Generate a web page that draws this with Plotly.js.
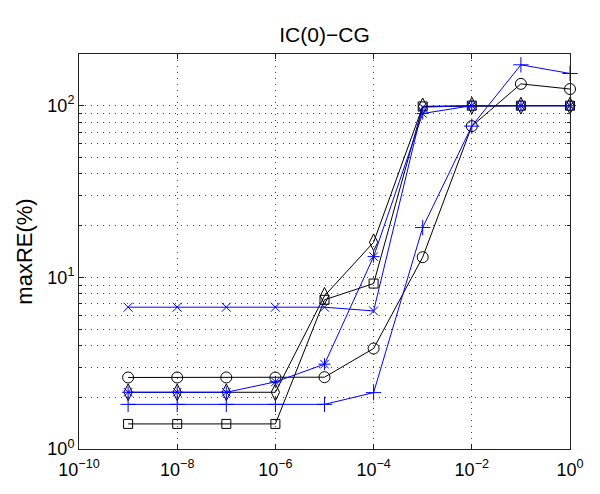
<!DOCTYPE html>
<html>
<head>
<meta charset="utf-8">
<script src="https://cdn.plot.ly/plotly-3.0.1.min.js"></script>
<style>html,body{margin:0;padding:0;background:#fff}#chart{width:600px;height:494px}</style>
</head>
<body>
<div id="chart"></div>
<script>
const xVals = [1e-9, 1e-8, 1e-7, 1e-6, 1e-5, 1e-4, 1e-3, 1e-2, 1e-1, 1e0];
const circleK  = [2.61, 2.61, 2.61, 2.61, 2.62, 3.85, 13.1, 76, 134, 125];
const squareK  = [1.40, 1.40, 1.40, 1.40, 7.4, 9.2, 99, 100, 100, 100];
const diamondK = [2.14, 2.14, 2.14, 2.14, 7.8, 16.0, 99, 100, 100, 100];
const xMarkB   = [6.7, 6.7, 6.7, 6.7, 6.7, 6.37, 98, 100, 100, 100];
const plusB    = [1.82, 1.82, 1.82, 1.82, 1.82, 2.13, 19.5, 76, 173, 154];
const starB    = [2.14, 2.14, 2.14, 2.46, 3.12, 13.2, 90, 100, 100, 100];
const xTickVals = [1e-10, 1e-8, 1e-6, 1e-4, 1e-2, 1e0];
const xTickText = ['10<sup>−10</sup>', '10<sup>−8</sup>', '10<sup>−6</sup>', '10<sup>−4</sup>', '10<sup>−2</sup>', '10<sup>0</sup>'];
const yTickVals = [1, 10, 100];
const yTickText = ['10<sup>0</sup>', '10<sup>1</sup>', '10<sup>2</sup>'];
const yMinorVals = [2,3,4,5,6,7,8,9,20,30,40,50,60,70,80,90];

const K = '#000000', B = '#0000ff';
function tr(y, color, symbol, size) {
  return {x: xVals, y: y, type: 'scatter', mode: 'lines+markers',
    line: {color: color, width: 1},
    marker: {symbol: symbol, size: size, color: color, line: {color: color, width: 1}},
    showlegend: false, cliponaxis: false};
}
const data = [
  tr(circleK, K, 'circle-open', 11),
  tr(squareK, K, 'square-open', 9),
  tr(diamondK, K, 'diamond-tall-open', 12),
  tr(xMarkB, B, 'x-thin-open', 9),
  tr(plusB, B, 'cross-thin-open', 11),
  tr(starB, B, 'asterisk-open', 10)
];
const GRID = '#444';
const DASH = '1px,5px';
const axCommon = {
  showline: true, mirror: 'ticks', linecolor: '#222', linewidth: 1,
  ticks: 'inside', ticklen: 5, tickcolor: '#222',
  showgrid: true, gridcolor: GRID, griddash: DASH, gridwidth: 1,
  zeroline: false, tickfont: {family: 'Liberation Sans, Arial, sans-serif', size: 18, color: '#000'}
};
const layout = {
  width: 600, height: 494,
  margin: {l: 79, r: 30, t: 54, b: 45},
  paper_bgcolor: '#fff', plot_bgcolor: '#fff',
  title: {text: 'IC(0)−CG', font: {family: 'Liberation Sans, Arial, sans-serif', size: 21, color: '#000'},
          x: 0.5, xref: 'paper', y: 1 - 35/494, yanchor: 'middle'},
  xaxis: Object.assign({}, axCommon, {
    type: 'log', range: [-10, 0], tickmode: 'array', tickvals: xTickVals, ticktext: xTickText,
    ticklabelstandoff: 4
  }),
  yaxis: Object.assign({}, axCommon, {
    type: 'log', range: [0, Math.log10(200)], tickmode: 'array', tickvals: yTickVals, ticktext: yTickText,
    title: {text: 'maxRE(%)', font: {family: 'Liberation Sans, Arial, sans-serif', size: 22, color: '#000'}, standoff: 8},
    minor: {tickmode: 'array', tickvals: yMinorVals, ticks: 'inside', ticklen: 3, tickcolor: '#222',
            showgrid: true, gridcolor: GRID, griddash: DASH, gridwidth: 1}
  })
};
Plotly.newPlot('chart', data, layout, {staticPlot: true, displayModeBar: false});
</script>
</body>
</html>
